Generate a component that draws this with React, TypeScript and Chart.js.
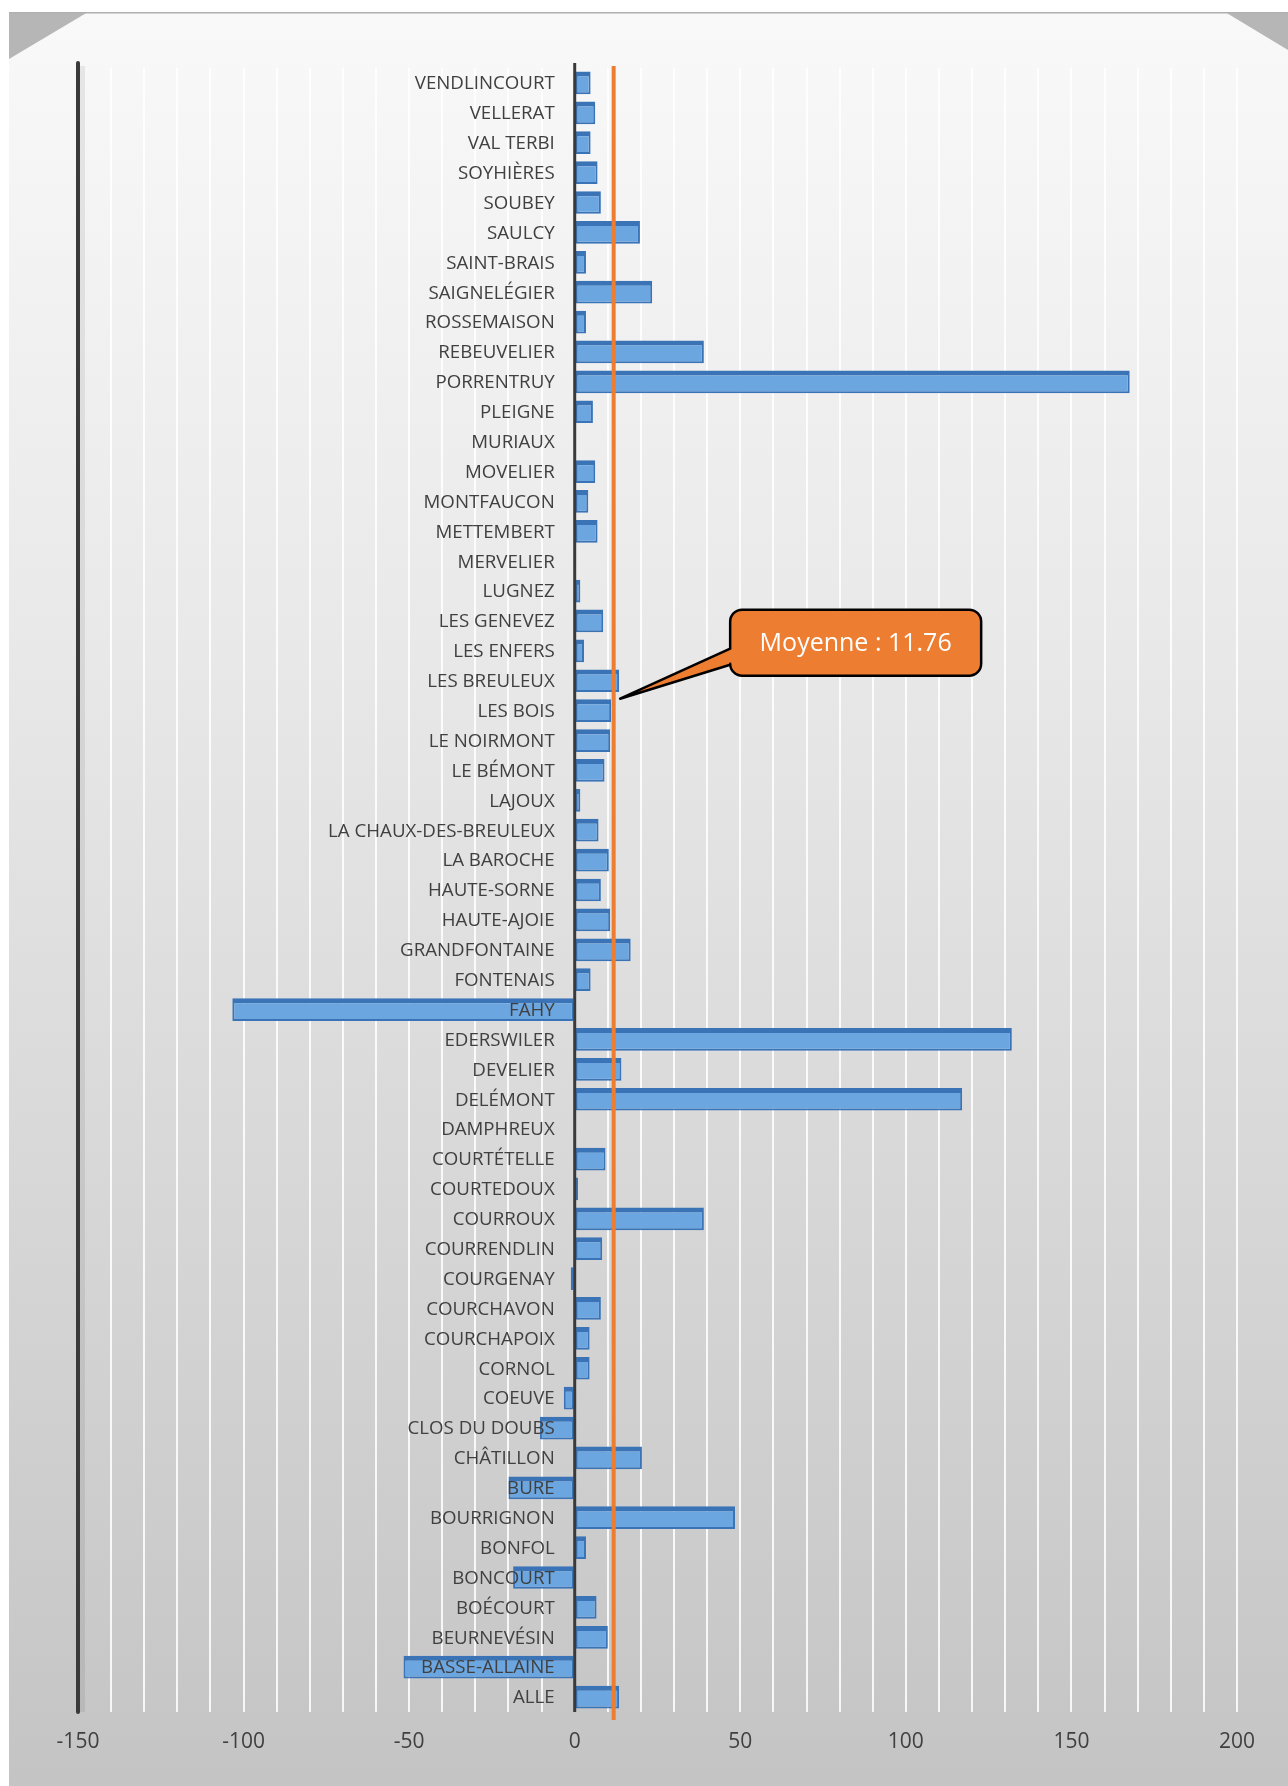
import React, { useEffect, useRef } from 'react';
import { Chart, registerables } from 'chart.js';

Chart.register(...registerables);

// Communes (alphabetical; drawn bottom-to-top)
const communes: string[] = [
  'ALLE', 'BASSE-ALLAINE', 'BEURNEVÉSIN', 'BOÉCOURT', 'BONCOURT', 'BONFOL', 'BOURRIGNON', 'BURE',
  'CHÂTILLON', 'CLOS DU DOUBS', 'COEUVE', 'CORNOL', 'COURCHAPOIX', 'COURCHAVON', 'COURGENAY',
  'COURRENDLIN', 'COURROUX', 'COURTEDOUX', 'COURTÉTELLE', 'DAMPHREUX', 'DELÉMONT', 'DEVELIER',
  'EDERSWILER', 'FAHY', 'FONTENAIS', 'GRANDFONTAINE', 'HAUTE-AJOIE', 'HAUTE-SORNE', 'LA BAROCHE',
  'LA CHAUX-DES-BREULEUX', 'LAJOUX', 'LE BÉMONT', 'LE NOIRMONT', 'LES BOIS', 'LES BREULEUX',
  'LES ENFERS', 'LES GENEVEZ', 'LUGNEZ', 'MERVELIER', 'METTEMBERT', 'MONTFAUCON', 'MOVELIER',
  'MURIAUX', 'PLEIGNE', 'PORRENTRUY', 'REBEUVELIER', 'ROSSEMAISON', 'SAIGNELÉGIER', 'SAINT-BRAIS',
  'SAULCY', 'SOUBEY', 'SOYHIÈRES', 'VAL TERBI', 'VELLERAT', 'VENDLINCOURT',
];

const values: number[] = [
  13.4, -51.7, 10, 6.6, -18.6, 3.4, 48.4, -20,
  20.3, -10.5, -3.3, 4.5, 4.5, 7.9, -1.2,
  8.3, 39, 1, 9.3, 0, 117, 14.1,
  132, -103.4, 4.8, 16.9, 10.7, 7.9, 10.3,
  7.2, 1.7, 9, 10.7, 11, 13.4,
  2.8, 8.6, 1.7, 0.3, 6.9, 4.1, 6.2,
  0, 5.5, 167.6, 39, 3.4, 23.4, 3.4,
  19.7, 7.9, 6.9, 4.8, 6.2, 4.8,
];

const xTickLabels: number[] = [-150, -100, -50, 0, 50, 100, 150, 200];
const xMin = -150;
const xMax = 200;
const gridStep = 10;

const meanValue = 11.76;
const meanLabel = 'Moyenne : 11.76';
const calloutNear: [string, string] = ['LES BOIS', 'LES BREULEUX'];

const W = 1279;
const H = 1774;
const FONT = '"Open Sans", "Noto Sans", sans-serif';

export default function App() {
  const ref = useRef<HTMLCanvasElement | null>(null);

  useEffect(() => {
    const canvas = ref.current;
    if (!canvas) return;

    const bgPlugin = {
      id: 'bgPlugin',
      beforeDraw(chart: any) {
        const ctx = chart.ctx;
        ctx.save();
        const g = ctx.createLinearGradient(0, 0, 0, H);
        g.addColorStop(0, '#f9f9f9');
        g.addColorStop(0.35, '#e9e9e9');
        g.addColorStop(1, '#c4c4c4');
        ctx.fillStyle = g;
        ctx.fillRect(0, 0, W, H);
        // 3D wall corners
        ctx.fillStyle = '#b6b6b6';
        ctx.beginPath();
        ctx.moveTo(0, 0);
        ctx.lineTo(79, 0);
        ctx.lineTo(0, 47);
        ctx.closePath();
        ctx.fill();
        ctx.beginPath();
        ctx.moveTo(1216, 0);
        ctx.lineTo(W, 0);
        ctx.lineTo(W, 38);
        ctx.closePath();
        ctx.fill();
        ctx.strokeStyle = '#b0b0b0';
        ctx.lineWidth = 1.5;
        ctx.beginPath();
        ctx.moveTo(0, 0.75);
        ctx.lineTo(W, 0.75);
        ctx.stroke();
        ctx.restore();
      },
      beforeDatasetsDraw(chart: any) {
        const ctx = chart.ctx;
        const xs = chart.scales.x;
        const area = chart.chartArea;
        const xl = xs.getPixelForValue(xMin);
        ctx.save();
        ctx.fillStyle = 'rgba(0,0,0,0.07)';
        ctx.fillRect(xl + 2, area.top - 2, 5, area.bottom - area.top + 2);
        ctx.strokeStyle = '#3a3a3a';
        ctx.lineWidth = 4;
        ctx.lineCap = 'round';
        ctx.beginPath();
        ctx.moveTo(xl, area.top - 5);
        ctx.lineTo(xl, area.bottom);
        ctx.stroke();
        ctx.restore();
      },
    };

    const overlayPlugin = {
      id: 'overlayPlugin',
      afterDatasetsDraw(chart: any) {
        const ctx = chart.ctx;
        const xs = chart.scales.x;
        const ys = chart.scales.y;
        const area = chart.chartArea;
        const x0 = xs.getPixelForValue(0);

        ctx.save();
        // zero axis line
        ctx.strokeStyle = '#3a3a3a';
        ctx.lineWidth = 3;
        ctx.beginPath();
        ctx.moveTo(x0, area.top - 5);
        ctx.lineTo(x0, area.bottom);
        ctx.stroke();

        // category labels
        ctx.font = `18.7px ${FONT}`;
        ctx.fillStyle = '#404040';
        ctx.textAlign = 'right';
        ctx.textBaseline = 'middle';
        communes.forEach((name, i) => {
          ctx.fillText(name, x0 - 20, ys.getPixelForValue(i) + 1);
        });

        // mean line
        const xm = xs.getPixelForValue(meanValue);
        ctx.strokeStyle = '#ed7d31';
        ctx.lineWidth = 4;
        ctx.beginPath();
        ctx.moveTo(xm, area.top - 2);
        ctx.lineTo(xm, area.bottom + 8);
        ctx.stroke();

        // callout
        const ia = communes.indexOf(calloutNear[0]);
        const ib = communes.indexOf(calloutNear[1]);
        const tipX = xm + 6.5;
        const tipY = (ys.getPixelForValue(ia) + ys.getPixelForValue(ib)) / 2 + 3;
        const left = tipX + 110;
        const right = tipX + 361;
        const top = tipY - 89;
        const bottom = tipY - 23;
        const r = 12;
        ctx.beginPath();
        ctx.moveTo(left + r, top);
        ctx.lineTo(right - r, top);
        ctx.arcTo(right, top, right, top + r, r);
        ctx.lineTo(right, bottom - r);
        ctx.arcTo(right, bottom, right - r, bottom, r);
        ctx.lineTo(left + r, bottom);
        ctx.arcTo(left, bottom, left, bottom - r, r);
        ctx.lineTo(left, tipY - 34);
        ctx.lineTo(tipX, tipY);
        ctx.lineTo(left, tipY - 50);
        ctx.lineTo(left, top + r);
        ctx.arcTo(left, top, left + r, top, r);
        ctx.closePath();
        ctx.fillStyle = '#ed7d31';
        ctx.fill();
        ctx.strokeStyle = '#000000';
        ctx.lineWidth = 2.5;
        ctx.lineJoin = 'round';
        ctx.stroke();

        ctx.fillStyle = '#ffffff';
        ctx.font = `25px ${FONT}`;
        ctx.textAlign = 'center';
        ctx.textBaseline = 'middle';
        ctx.fillText(meanLabel, (left + right) / 2, (top + bottom) / 2 + 1);
        ctx.restore();
      },
    };

    const chart = new Chart(canvas, {
      type: 'bar',
      data: {
        labels: communes,
        datasets: [
          {
            data: values,
            backgroundColor: '#6ca6e0',
            borderColor: '#3a74b6',
            borderWidth: { top: 5, left: 2, right: 2, bottom: 2 },
            borderSkipped: false,
            categoryPercentage: 1,
            barPercentage: 0.76,
          },
        ],
      },
      options: {
        indexAxis: 'y',
        animation: false,
        responsive: true,
        maintainAspectRatio: false,
        layout: { padding: { top: 56, left: 69, right: 51, bottom: 0 } },
        plugins: {
          legend: { display: false },
          tooltip: { enabled: false },
          title: { display: false },
        },
        scales: {
          x: {
            type: 'linear',
            min: xMin,
            max: xMax,
            border: { display: false },
            grid: {
              drawTicks: false,
              color: (c: any) =>
                c.tick && (c.tick.value === xMin || c.tick.value === 0)
                  ? 'rgba(0,0,0,0)'
                  : 'rgba(255,255,255,0.85)',
              lineWidth: 2,
            },
            ticks: {
              stepSize: gridStep,
              autoSkip: false,
              maxRotation: 0,
              padding: 17,
              color: '#404040',
              font: { family: FONT, size: 21 },
              callback: (v: any) => (xTickLabels.includes(Number(v)) ? String(v) : ''),
            },
            afterFit: (s: any) => {
              s.height = 74;
            },
          },
          y: {
            type: 'category',
            reverse: true,
            display: false,
            grid: { display: false },
          },
        },
      },
      plugins: [bgPlugin, overlayPlugin],
    } as any);

    return () => {
      chart.destroy();
    };
  }, []);

  return (
    <div style={{ position: 'absolute', left: 9, top: 12, width: W, height: H }}>
      <canvas ref={ref} style={{ display: 'block' }} />
    </div>
  );
}
